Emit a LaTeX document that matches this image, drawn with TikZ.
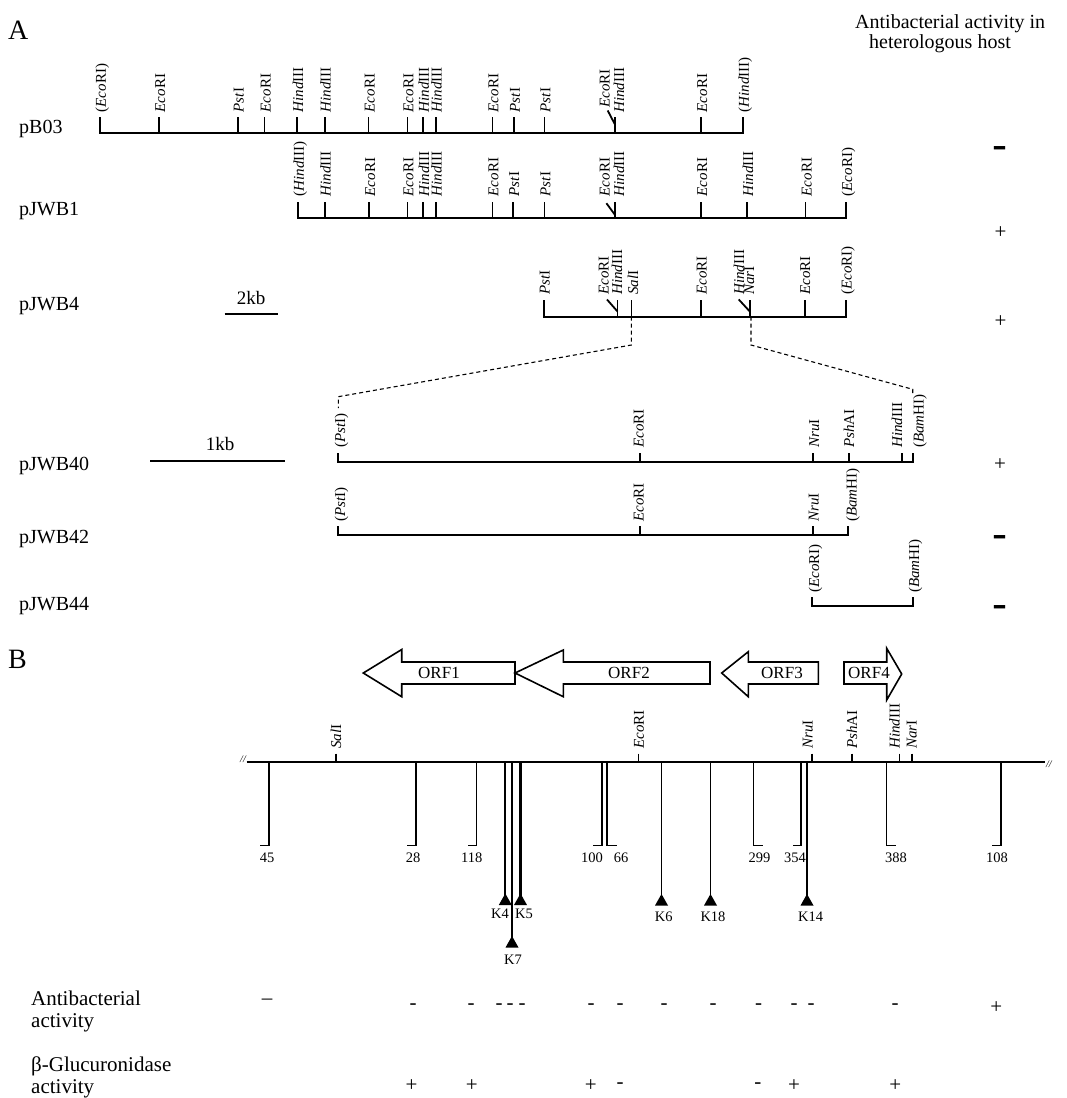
\documentclass[tikz,border=0pt]{standalone}
\usepackage{fontspec}
\setmainfont{Liberation Serif}
\newcommand{\En}[2]{\textit{#1}#2}
\begin{document}
\begin{tikzpicture}[x=1pt,y=-1pt,
  mapline/.style={line width=2pt, line join=miter},
  tickl/.style={line width=1.8pt},
  dashl/.style={dash pattern=on 4pt off 3pt, line width=1.1pt},
  site/.style={rotate=90, anchor=west, inner sep=0pt, font=\fontsize{15}{17}\selectfont, text height=10.5pt, text depth=3.5pt},
  rowlab/.style={anchor=base west, inner sep=0pt, font=\fontsize{20}{24}\selectfont},
  blab/.style={anchor=base west, inner sep=0pt, font=\fontsize{21}{24}\selectfont},
  mk/.style={inner sep=0pt, font=\fontsize{21}{24}\selectfont},
  bmk/.style={inner sep=0pt, font=\fontsize{22}{24}\selectfont\bfseries},
  orf/.style={draw, line width=1.6pt, line join=miter},
  orft/.style={inner sep=0pt, font=\fontsize{17}{20}\selectfont},
  num/.style={inner sep=0pt, font=\fontsize{14.5}{16}\selectfont},
  ins/.style={line width=1.9pt},
  brk/.style={inner sep=0pt, font=\fontsize{10}{12}\selectfont\itshape}
]
\useasboundingbox (0,0) rectangle (1066,1098);

% ---------------- panel A ----------------
\node[anchor=base west, inner sep=0pt, font=\fontsize{28}{30}\selectfont] (panA) at (8,39.6) {A};
\node[anchor=base west, inner sep=0pt, font=\fontsize{20}{24}\selectfont] (hd1) at (855,28) {Antibacterial activity in};
\node[anchor=base, inner sep=0pt, font=\fontsize{20}{24}\selectfont] (hd2) at (940,48.5) {heterologous host};

% pB03
\node[rowlab] (rB03) at (19,133) {pB03};
\draw[mapline] (99.9,117) -- (99.9,132.6) -- (742.8,132.6) -- (742.8,117);
\foreach \x in {159,237.6,264.5,297,324.7,368.5,407.4,422.9,435.6,492.4,513.8,544.4,614.7,701}
  \draw[tickl] (\x,117) -- (\x,132.6);
\draw[tickl] (607.7,110.5) -- (614.7,124);
\foreach \x/\t [count=\i] in {99.9/{(\En{Eco}{RI})},159/{\En{Eco}{RI}},237.6/{\En{Pst}{I}},264.5/{\En{Eco}{RI}},
  297/{\En{Hind}{III}},324.7/{\En{Hind}{III}},368.5/{\En{Eco}{RI}},407.4/{\En{Eco}{RI}},422.9/{\En{Hind}{III}},
  435.6/{\En{Hind}{III}},492.4/{\En{Eco}{RI}},513.8/{\En{Pst}{I}},544.4/{\En{Pst}{I}},701/{\En{Eco}{RI}},742.8/{(\En{Hind}{III})}}
  \node[site] (sB03-\i) at (\x+2.5,112.5) {\t};
\node[site] (sB03-e) at (606,108) {\En{Eco}{RI}};
\node[site] (sB03-h) at (620.5,113) {\En{Hind}{III}};
\node[bmk] (aB03) at (1000,153) {\scalebox{1}[2.2]{–}};

% pJWB1
\node[rowlab] (rJ1) at (19,215) {pJWB1};
\draw[mapline] (297.9,202) -- (297.9,218) -- (846,218) -- (846,202);
\foreach \x in {324.7,369,407.4,423,435.6,492.4,513,544.4,614.7,701,747,805.5}
  \draw[tickl] (\x,202) -- (\x,218);
\draw[tickl] (606.4,203.2) -- (614.7,214.5);
\foreach \x/\t [count=\i] in {297.9/{(\En{Hind}{III})},324.7/{\En{Hind}{III}},369/{\En{Eco}{RI}},407.4/{\En{Eco}{RI}},
  423/{\En{Hind}{III}},435.6/{\En{Hind}{III}},492.4/{\En{Eco}{RI}},513/{\En{Pst}{I}},544.4/{\En{Pst}{I}},
  701/{\En{Eco}{RI}},747/{\En{Hind}{III}},805.5/{\En{Eco}{RI}},846/{(\En{Eco}{RI})}}
  \node[site] (sJ1-\i) at (\x+2.5,196.5) {\t};
\node[site] (sJ1-e) at (606,196.5) {\En{Eco}{RI}};
\node[site] (sJ1-h) at (620.5,196.5) {\En{Hind}{III}};
\node[mk] (aJ1) at (1000.5,233) {+};

% pJWB4
\node[rowlab] (rJ4) at (19,310) {pJWB4};
\draw[mapline] (544.4,300) -- (544.4,316.5) -- (846,316.5) -- (846,300);
\foreach \x in {617.5,631.4,701,749.8,804.8}
  \draw[tickl] (\x,300) -- (\x,316.5);
\draw[tickl] (607,299.5) -- (617.5,311.5);
\draw[tickl] (738.7,299.4) -- (749.8,311.5);
\foreach \x/\t [count=\i] in {546/{\En{Pst}{I}},605/{\En{Eco}{RI}},618.5/{\En{Hind}{III}},634.5/{\En{Sal}{I}},
  703/{\En{Eco}{RI}},740.5/{\En{Hind}{III}},750.5/{\En{Nar}{I}},806.5/{\En{Eco}{RI}},848/{(\En{Eco}{RI})}}
  \node[site] (sJ4-\i) at (\x,295) {\t};
\node[mk] (aJ4) at (1000.5,322) {+};
\draw[line width=1.8pt] (224.5,314.3) coordinate (k2a) -- (278,314.3) coordinate (k2b);
\node[inner sep=0pt, font=\fontsize{19}{22}\selectfont] (k2) at (251,298) {2kb};

% dashed expansion
\draw[dashl] (631.4,316.5) -- (631.4,345) -- (338.3,396.7) -- (338.3,408);
\draw[dashl] (751,316.5) -- (751,345) -- (912.7,389.3) -- (912.7,395);

% pJWB40
\node[rowlab] (rJ40) at (19,470) {pJWB40};
\draw[mapline] (338.3,453) -- (338.3,461.7) -- (912.7,461.7) -- (912.7,453);
\foreach \x in {640,813.3,849.3,901.7}
  \draw[tickl] (\x,453) -- (\x,461.7);
\foreach \x/\t [count=\i] in {341.5/{(\En{Pst}{I})},640/{\En{Eco}{RI}},815.5/{\En{Nru}{I}},850.5/{\En{Psh}{AI}},
  898.5/{\En{Hind}{III}},920/{(\En{Bam}{HI})}}
  \node[site] (sJ40-\i) at (\x,448) {\t};
\node[mk] (aJ40) at (1000,465) {+};
\draw[line width=1.8pt] (150,460.7) coordinate (k1a) -- (285,460.7) coordinate (k1b);
\node[inner sep=0pt, font=\fontsize{19}{22}\selectfont] (k1) at (220,444) {1kb};

% pJWB42
\node[rowlab] (rJ42) at (19,543) {pJWB42};
\draw[mapline] (338.3,526) -- (338.3,535) -- (848.3,535) -- (848.3,526);
\foreach \x in {640,812.7}
  \draw[tickl] (\x,526) -- (\x,535);
\foreach \x/\t [count=\i] in {341.5/{(\En{Pst}{I})},640/{\En{Eco}{RI}},815/{\En{Nru}{I}},853/{(\En{Bam}{HI})}}
  \node[site] (sJ42-\i) at (\x,522) {\t};
\node[bmk] (aJ42) at (1000,542) {\scalebox{1}[2.2]{–}};

% pJWB44
\node[rowlab] (rJ44) at (19,610) {pJWB44};
\draw[mapline] (811.7,597) -- (811.7,606) -- (912.7,606) -- (912.7,597);
\node[site] (sJ44-1) at (815.5,593) {(\En{Eco}{RI})};
\node[site] (sJ44-2) at (915.5,593) {(\En{Bam}{HI})};
\node[bmk] (aJ44) at (1000,612) {\scalebox{1}[2.2]{–}};

% ---------------- panel B ----------------
\node[anchor=base west, inner sep=0pt, font=\fontsize{28}{30}\selectfont] (panB) at (8,668) {B};

\draw[orf] (363.3,673) -- (401.7,649.5) -- (401.7,662) -- (515,662) -- (515,684) -- (401.7,684) -- (401.7,696.7) -- cycle;
\draw[orf] (515,673) -- (563.3,650) -- (563.3,662) -- (710,662) -- (710,684) -- (563.3,684) -- (563.3,696.7) -- cycle;
\draw[orf] (721.7,673) -- (748.3,651.7) -- (748.3,662) -- (818.3,662) -- (818.3,684) -- (748.3,684) -- (748.3,696.7) -- cycle;
\draw[orf] (844,662) -- (886.7,662) -- (886.7,648.3) -- (901.7,674) -- (886.7,700) -- (886.7,684) -- (844,684) -- cycle;
\node[orft] (o1) at (439,673) {ORF1};
\node[orft] (o2) at (629,673) {ORF2};
\node[orft] (o3) at (782,673) {ORF3};
\node[orft] (o4) at (869,673) {ORF4};

\draw[line width=1.8pt] (246.7,761.7) coordinate (mL) -- (1045,761.7) coordinate (mR);
\node[brk, anchor=east] (bL) at (246,759) {//};
\node[brk, anchor=west] (bR) at (1046,764) {//};
\foreach \x in {335.7,638.3,811.7,851.7,899.3,911.7}
  \draw[line width=1.6pt] (\x,753.5) -- (\x,761.7);
\foreach \x/\t [count=\i] in {337.5/{\En{Sal}{I}},640.3/{\En{Eco}{RI}},809/{\En{Nru}{I}},853.5/{\En{Psh}{AI}},
  896/{\En{Hind}{III}},913/{\En{Nar}{I}}}
  \node[site] (sB-\i) at (\x,749) {\t};

\foreach \x/\f/\n/\lx [count=\i] in {269.3/260/45/267,415.6/407.4/28/413,476.5/467.6/118/471.8,
  601.8/593/100/592,606.6/616.8/66/621,753.5/763/299/759.6,801.3/792.6/354/795,886.5/896/388/896,
  1001.3/991.8/108/997}{
  \draw[ins, line join=miter] (\x,761.7) -- (\x,845.5) -- (\f,845.5);
  \node[num] (n\i) at (\lx,858) {\n};
}
\foreach \x/\a/\lx/\ly/\n/\w [count=\i] in {505.3/893.5/500/914/K4/2.2,520.5/893.5/524/914/K5/2.2,
  512/936/513/960/K7/1.3,661.5/894/663.8/917/K6/1.8,710.5/894/713/917/K18/1.8,807/894/810.7/917/K14/2}{
  \draw[line width=\w pt] (\x,761.7) -- (\x,\a+2);
  \fill (\x,\a) -- (\x-6.5,\a+11.5) -- (\x+6.5,\a+11.5) -- cycle;
  \node[num] (k\i) at (\lx,\ly) {\n};
}

\node[blab] (lab1a) at (31,1005) {Antibacterial};
\node[blab] (lab1b) at (31,1027) {activity};
\node[blab] (lab2a) at (31,1071) {β-Glucuronidase};
\node[blab] (lab2b) at (31,1093) {activity};

\node[mk] (ab0) at (267,1002) {–};
\foreach \x [count=\i] in {413,471,499,510,522,591,620,664,713,758.5,794,811,895}
  \node[mk] (ab\i) at (\x,1007) {-};
\node[mk] (abp) at (996.3,1008) {+};

\foreach \x/\t [count=\i] in {411.5/+,471.8/+,590.7/+,620/-,757.8/-,794/+,895.3/+}
  \node[mk] (gl\i) at (\x,1086) {\t};
\end{tikzpicture}
\end{document}
